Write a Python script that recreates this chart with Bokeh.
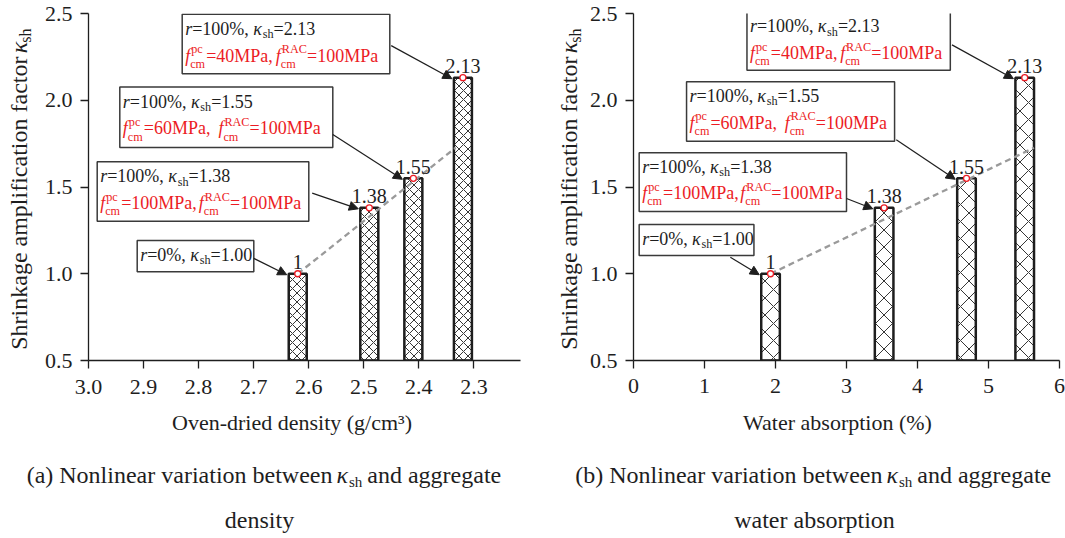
import math
from bokeh.plotting import figure
from bokeh.layouts import row, column
from bokeh.models import (Range1d, FixedTicker, NumeralTickFormatter, Label,
                          BoxAnnotation, Arrow, NormalHead)
from bokeh.embed import file_html
from bokeh.resources import INLINE
from bokeh.core.properties import value

FONT = "Liberation Serif"
INK = "#1e1e1e"
RED = "#ec1c24"

# ---------------- data ----------------
kappa_sh = [1.00, 1.38, 1.55, 2.13]
kappa_text = ["1", "1.38", "1.55", "2.13"]
density = [2.62, 2.49, 2.41, 2.32]          # oven-dried density (g/cm3)
absorption = [1.93, 3.53, 4.69, 5.51]       # water absorption (%)
replacement = ["0%", "100%", "100%", "100%"]
f_pc = ["", "100", "60", "40"]              # MPa
f_rac = ["", "100", "100", "100"]           # MPa
trend_density = [2.62, 2.333]
trend_kappa_a = [1.00, 1.727]
trend_absorption = [1.93, 5.64]
trend_kappa_b = [1.00, 1.726]
kappa_ticks = [0.5, 1.0, 1.5, 2.0, 2.5]
density_ticks = [3.0, 2.9, 2.8, 2.7, 2.6, 2.5, 2.4, 2.3]
absorption_ticks = [0, 1, 2, 3, 4, 5, 6]
x_titles = ["Oven-dried density (g/cm\u00b3)", "Water absorption (%)"]
y_title = "Shrinkage amplification factor"
captions = [("(a) Nonlinear variation between", "and aggregate", "density"),
            ("(b) Nonlinear variation between", "and aggregate", "water absorption")]

# ---------------- text metrics (Times-like) ----------------
W_REG = {' ': 250, '%': 833, '(': 333, ')': 333, ',': 250, '-': 333, '.': 250, '/': 278,
         '=': 564, 'A': 722, 'C': 667, 'M': 889, 'P': 556, 'R': 667, 'S': 556, 'N': 722,
         'a': 444, 'b': 500, 'c': 444, 'd': 500, 'e': 444, 'f': 333, 'g': 500, 'h': 500,
         'i': 278, 'k': 500, 'l': 278, 'm': 778, 'n': 500, 'o': 500, 'p': 500, 'r': 333,
         's': 389, 't': 278, 'u': 500, 'v': 500, 'w': 722, 'y': 500}
W_IT = {'r': 389, 'f': 278, '\u03ba': 520}

TOP_H = 411      # height of the chart row
FULL_H = 538
BASE_K = 0.33    # renderer places alphabetic baselines ~this many em too low


def tw(s, size, italic=False):
    tot = 0
    for ch in s:
        if italic and ch in W_IT:
            tot += W_IT[ch]
        else:
            tot += W_REG.get(ch, 500)
    return tot / 1000.0 * size


class Panel:
    """A figure plus a mapping from page pixels to its data coordinates."""

    def __init__(self, p, fl, fr, ft, fb, x0, x1, y0, y1):
        self.p = p
        self.fl, self.fr, self.ft, self.fb = fl, fr, ft, fb
        self.x0, self.x1, self.y0, self.y1 = x0, x1, y0, y1

    def X(self, px):
        return self.x0 + (px - self.fl) * (self.x1 - self.x0) / (self.fr - self.fl)

    def Y(self, py):
        return self.y0 + (self.fb - py) * (self.y1 - self.y0) / (self.fb - self.ft)

    def PX(self, x):
        return self.fl + (x - self.x0) * (self.fr - self.fl) / (self.x1 - self.x0)

    def PY(self, y):
        return self.fb - (y - self.y0) * (self.fb - self.ft) / (self.y1 - self.y0)

    def label(self, px, py, text, size, italic=False, color=INK, align="left", angle=0.0):
        if angle:
            px -= BASE_K * size
        else:
            py -= BASE_K * size
        self.p.add_layout(Label(x=self.X(px), y=self.Y(py), text=text, text_font=FONT,
                                text_font_size="%.1fpx" % size,
                                text_font_style="italic" if italic else "normal",
                                text_color=color, text_align=align,
                                text_baseline="alphabetic", angle=angle))

    def rich(self, segs, px, py, size, color):
        cx = px
        s2 = size * 0.68
        for seg in segs:
            kind = seg[0]
            if kind == "n":
                self.label(cx, py, seg[1], size, seg[2], color)
                cx += tw(seg[1], size, seg[2])
            elif kind == "gap":
                cx += seg[1]
            elif kind == "sub":
                self.label(cx, py + size * 0.2, seg[1], s2, False, color)
                cx += tw(seg[1], s2)
            elif kind == "supsub":
                self.label(cx + 1, py - size * 0.45, seg[1], s2, False, color)
                self.label(cx, py + size * 0.35, seg[2], s2, False, color)
                cx += max(tw(seg[1], s2), tw(seg[2], s2)) + 1
        return cx


def chart(ox, width, fl, fr, ft, fb, x0, x1, x_standoff):
    p = figure(width=width, height=TOP_H, x_range=Range1d(x0, x1), y_range=Range1d(0.5, 2.5),
               output_backend="svg", toolbar_location=None,
               min_border_left=fl - ox, min_border_right=ox + width - fr,
               min_border_top=ft, min_border_bottom=TOP_H - fb)
    p.xgrid.visible = False
    p.ygrid.visible = False
    p.outline_line_color = None
    p.background_fill_color = "white"
    p.border_fill_color = "white"
    for ax in (p.xaxis[0], p.yaxis[0]):
        ax.axis_line_color = INK
        ax.axis_line_width = 1.3
        ax.major_tick_line_color = INK
        ax.major_tick_line_width = 1.3
        ax.major_tick_out = 8
        ax.major_tick_in = 0
        ax.minor_tick_out = 0
        ax.minor_tick_in = 0
        ax.major_label_text_font = FONT
        ax.major_label_text_font_size = "22px"
        ax.major_label_text_color = INK
    p.xaxis.major_label_standoff = x_standoff
    p.yaxis.major_label_standoff = 8
    p.yaxis.ticker = FixedTicker(ticks=kappa_ticks)
    p.yaxis.formatter = NumeralTickFormatter(format="0.0")
    return Panel(p, fl, fr, ft, fb, x0, x1, 0.5, 2.5)


def blank(ox, oy, w, h):
    p = figure(width=w, height=h, x_range=Range1d(ox, ox + w), y_range=Range1d(oy + h, oy),
               output_backend="svg", toolbar_location=None, min_border=0,
               x_axis_location=None, y_axis_location=None)
    p.xgrid.visible = False
    p.ygrid.visible = False
    p.outline_line_color = None
    p.background_fill_color = "white"
    p.border_fill_color = "white"
    return Panel(p, ox, ox + w, oy, oy + h, ox, ox + w, oy + h, oy)


def draw(ch, xs, bw, hatch, trend_x, trend_y, boxes):
    p = ch.p
    p.vbar(x=xs, top=kappa_sh, bottom=0.5, width=bw, fill_color="white",
           line_color=INK, line_width=2.5, hatch_pattern="x", hatch_color=INK,
           hatch_weight=0.9, hatch_scale=hatch)
    p.line(trend_x, trend_y, line_color="#9a9a9a", line_width=2.3, line_dash="6 4")
    p.scatter(xs, kappa_sh, marker="circle", size=6, line_color=RED, line_width=1.3,
              fill_color="white")
    p.text(x=xs, y=kappa_sh, text=kappa_text, text_font=value(FONT),
           text_font_size=value("20px"), text_color=INK, text_align="center",
           text_baseline="alphabetic", y_offset=-5 - BASE_K * 20)

    for (i, bx0, by0, bx1, by1, ax, ay, gap) in boxes:
        p.add_layout(BoxAnnotation(left=ch.X(bx0), right=ch.X(bx1), top=ch.Y(by0), bottom=ch.Y(by1),
                                   fill_color="white", fill_alpha=1.0, line_color="#3a3a3a",
                                   line_width=1.5, line_alpha=1.0))
        line1 = [("n", "r", True), ("n", "=" + replacement[i] + ", ", False),
                 ("n", "\u03ba", True), ("sub", "sh"), ("n", "=%.2f" % kappa_sh[i], False)]
        ch.rich(line1, bx0 + 3, by0 + 20.5, 18, INK)
        if f_pc[i]:
            line2 = [("n", "f", True), ("supsub", "pc", "cm"),
                     ("n", "=" + f_pc[i] + "MPa,", False), ("gap", gap),
                     ("n", "f", True), ("supsub", "RAC", "cm"),
                     ("n", "=" + f_rac[i] + "MPa", False)]
            ch.rich(line2, bx0 + 3, by0 + 47.5, 18, RED)
        left_px = min(ch.PX(xs[i] - bw / 2), ch.PX(xs[i] + bw / 2))
        tip_x, tip_y = left_px - 2, ch.PY(kappa_sh[i]) + 1
        p.add_layout(Arrow(x_start=ch.X(ax), y_start=ch.Y(ay), x_end=ch.X(tip_x), y_end=ch.Y(tip_y),
                           line_color=INK, line_width=1.2,
                           end=NormalHead(size=9, fill_color=INK, line_color=INK, line_width=1)))


def y_title_panel(ox, w, base_x):
    yp = blank(ox, 0, w, TOP_H)
    yp.label(base_x, 51, y_title, 24, align="right", angle=math.pi / 2)
    yp.label(base_x, 47, "\u03ba", 24, italic=True, angle=math.pi / 2)
    yp.label(base_x + 4.5, 47 - tw("\u03ba", 24, True), "sh", 16, angle=math.pi / 2)
    return yp


# ---------------- left chart ----------------
XEND = 3.0 - 432 / 550.6
yA = y_title_panel(0, 40, 26)
A = chart(ox=40, width=500, fl=88, fr=520, ft=11, fb=360, x0=3.0, x1=XEND, x_standoff=11)
A.p.xaxis.ticker = FixedTicker(ticks=density_ticks)
A.p.xaxis.formatter = NumeralTickFormatter(format="0.0")
boxes_a = [
    (3, 181.7, 11.7, 389.3, 71.7, 390.7, 43.3, 3),
    (2, 119.3, 85.0, 332.3, 145.7, 332.3, 132.7, 8),
    (1, 96.7, 160.0, 308.3, 220.0, 311.7, 191.7, 2),
    (0, 136.7, 239.3, 253.3, 270.7, 253.3, 257.3, 0),
]
draw(A, density, 18 / 550.6, 9, trend_density, trend_kappa_a, boxes_a)

# ---------------- right chart ----------------
yB = y_title_panel(540, 46, 576)
B = chart(ox=586, width=479, fl=631, fr=1059, ft=13, fb=367, x0=0.0, x1=6.0, x_standoff=10)
B.p.xaxis.ticker = FixedTicker(ticks=absorption_ticks)
B.p.xaxis.formatter = NumeralTickFormatter(format="0")
boxes_b = [
    (3, 745.0, 11.7, 949.3, 71.0, 951.0, 45.0, 3),
    (2, 684.3, 82.7, 893.3, 143.3, 895.0, 141.7, 8),
    (1, 636.7, 155.0, 845.0, 215.0, 845.0, 201.7, 2),
    (0, 636.7, 228.3, 752.0, 260.0, 728.3, 261.7, 0),
]
draw(B, absorption, 18.7 / 71.333, 17, trend_absorption, trend_kappa_b, boxes_b)

# ---------------- axis titles and captions ----------------
cap = blank(0, TOP_H, 1065, FULL_H - TOP_H)
for title, cx in ((x_titles[0], 291.5), (x_titles[1], 837)):
    cap.label(cx, 429.5, title, 22, align="center")
for c, kx, cx in ((captions[0], 336, 259), (captions[1], 886, 814)):
    kw = tw("\u03ba", 24, True)
    cap.label(kx - 4, 482, c[0], 24, align="right")
    cap.label(kx, 482, "\u03ba", 24, italic=True)
    cap.label(kx + kw, 486, "sh", 15)
    cap.label(kx + kw + tw("sh", 15) + 5, 482, c[1], 24)
    cap.label(cx, 527, c[2], 24, align="center")

layout = column(row(yA.p, A.p, yB.p, B.p), cap.p)
open("out.html", "w").write(file_html(layout, INLINE))
